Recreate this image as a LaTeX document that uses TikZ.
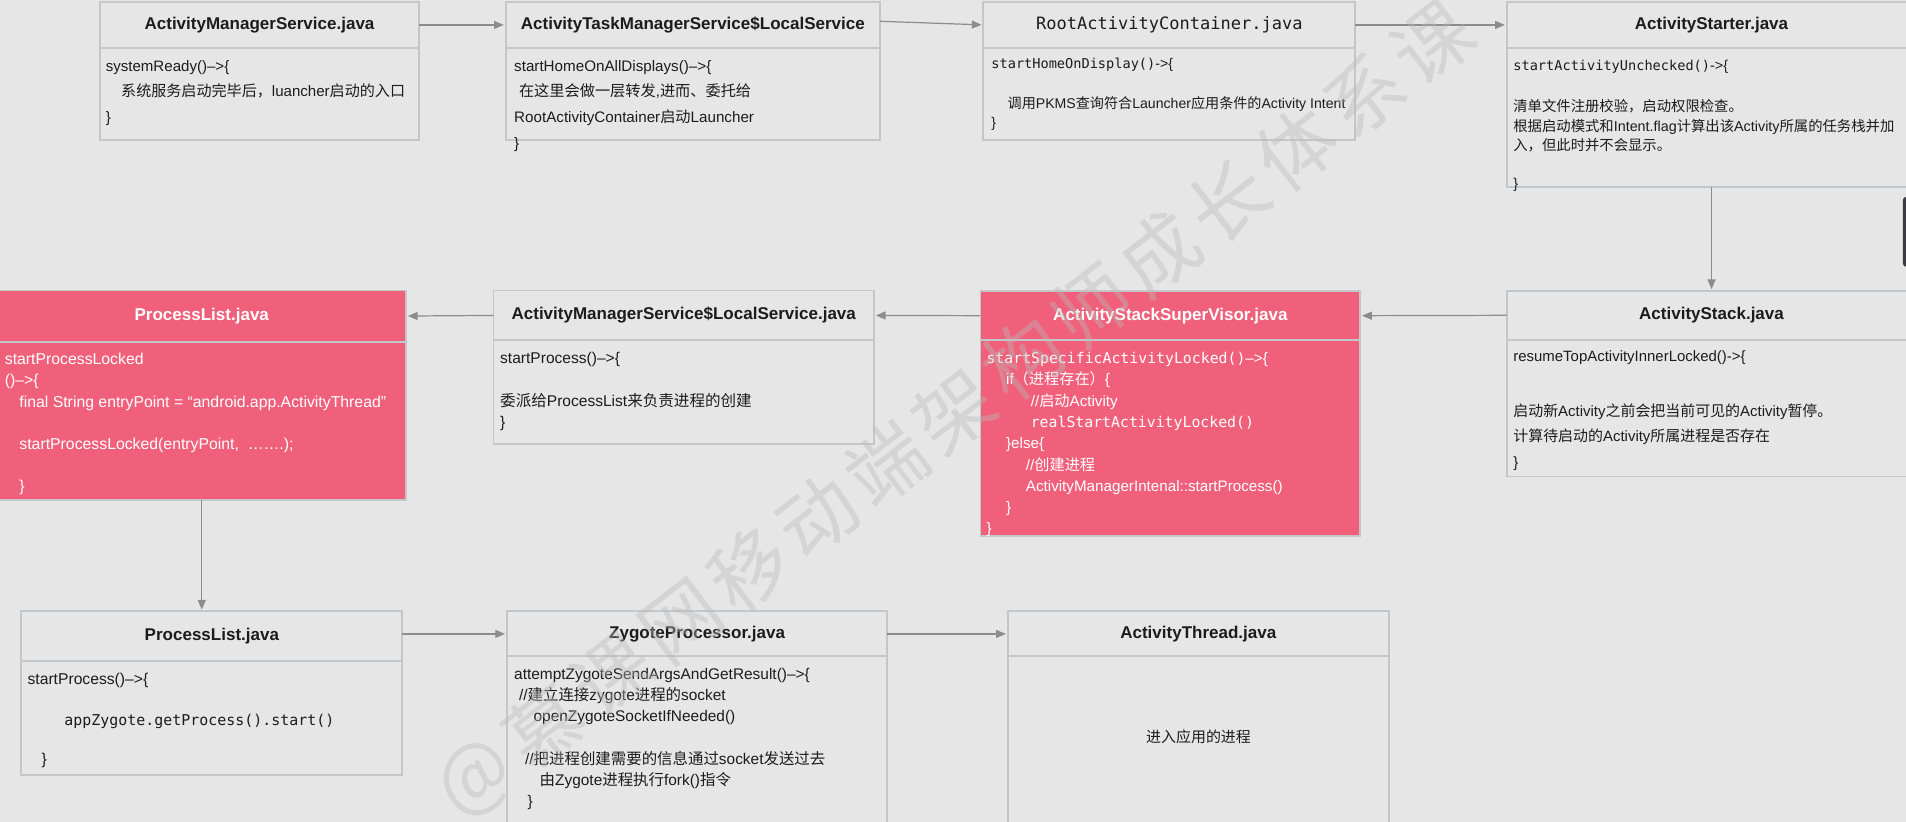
\documentclass[tikz,border=0pt]{standalone}
\usepackage{fontspec}
\setmainfont{Liberation Sans}
\newfontfamily\zhfont{Noto Sans CJK SC}
\newfontfamily\monof{DejaVu Sans Mono}
\usetikzlibrary{arrows.meta}
\definecolor{bgc}{RGB}{230,230,230}
\definecolor{bordc}{RGB}{196,199,202}
\definecolor{pinkc}{RGB}{241,96,122}
\definecolor{arrc}{RGB}{140,140,140}
\definecolor{txtc}{RGB}{28,28,28}
\definecolor{wmc}{RGB}{185,185,185}
\definecolor{darkc}{RGB}{58,58,64}
\newcommand\zh[1]{{\zhfont #1}}
\newcommand\fs[1]{\fontsize{#1}{#1}\selectfont}
\newcommand\mo[2]{{\monof\fs{#1}#2}}
\begin{document}
\begin{tikzpicture}[x=1pt,y=-1pt,
  hdr/.style={draw=bordc, line width=1.6pt, fill=bgc, inner sep=0pt, outer sep=0pt, anchor=north west, font=\fs{14}\bfseries, text=txtc},
  bod/.style={draw=bordc, line width=1.6pt, fill=bgc, inner sep=0pt, outer sep=0pt, anchor=north west},
  phdr/.style={hdr, fill=pinkc, text=white},
  pbod/.style={bod, fill=pinkc},
  txt/.style={anchor=base west, inner sep=0pt, outer sep=0pt, text=txtc},
  wtxt/.style={txt, text=white},
  amst/.style={txt, font=\fs{12.4}, yshift=-4.4pt},
  atmst/.style={txt, font=\fs{12.5}, yshift=-4.4pt},
  ract/.style={txt, font=\fs{11.6}, yshift=-4.1pt},
  start/.style={txt, font=\fs{11.8}, yshift=-4.2pt},
  stkt/.style={txt, font=\fs{12.3}, yshift=-4.4pt},
  assvt/.style={wtxt, font=\fs{12.5}, yshift=-4.4pt},
  amslst/.style={txt, font=\fs{12.8}, yshift=-4.5pt},
  plat/.style={wtxt, font=\fs{13}, yshift=-4.6pt},
  plbt/.style={txt, font=\fs{12.9}, yshift=-4.5pt},
  zpt/.style={txt, font=\fs{12.7}, yshift=-4.5pt},
  att/.style={txt, anchor=base, font=\fs{12.3}, yshift=-4.4pt},
  arr/.style={draw=arrc, line width=1pt, shorten >=1.5pt, -{Triangle[length=8pt,width=6.5pt]}},
  wm/.style={font=\zhfont\fs{64}, text=wmc, text opacity=0.4, rotate=37.6, inner sep=0pt}
]
\path[use as bounding box] (0,0) rectangle (1568,676.2);
\clip (0,0) rectangle (1568,676.2);
\fill[bgc] (0,0) rectangle (1568,676.2);

% ---------- boxes ----------
\node[hdr, minimum width=263pt, minimum height=38pt] (amsH) at (82,1.5) {ActivityManagerService.java};
\node[bod, minimum width=263pt, minimum height=75.5pt] (amsB) at (82,39.5) {};

\node[hdr, minimum width=308pt, minimum height=38pt] (atmsH) at (416,1.5) {ActivityTaskManagerService\$LocalService};
\node[bod, minimum width=308pt, minimum height=75.5pt] (atmsB) at (416,39.5) {};

\node[hdr, minimum width=306pt, minimum height=38pt, font=\monof\fs{14}] (racH) at (809,1.5) {RootActivityContainer.java};
\node[bod, minimum width=306pt, minimum height=75.5pt] (racB) at (809,39.5) {};

\node[hdr, minimum width=337pt, minimum height=38pt] (starH) at (1239.5,1.5) {ActivityStarter.java};
\node[bod, minimum width=337pt, minimum height=114pt] (starB) at (1239.5,39.5) {};

\node[hdr, minimum width=337pt, minimum height=40pt] (stkH) at (1239.5,239.4) {ActivityStack.java};
\node[bod, minimum width=337pt, minimum height=112.6pt] (stkB) at (1239.5,279.4) {};

\node[phdr, minimum width=312.4pt, minimum height=40.6pt] (assvH) at (806.6,239.4) {ActivityStackSuperVisor.java};
\node[pbod, minimum width=312.4pt, minimum height=161pt] (assvB) at (806.6,280) {};

\node[hdr, minimum width=313pt, minimum height=41pt] (amslsH) at (406,239) {ActivityManagerService\$LocalService.java};
\node[bod, minimum width=313pt, minimum height=85.5pt] (amslsB) at (406,280) {};

\node[phdr, minimum width=336pt, minimum height=42pt] (plaH) at (-2,239) {ProcessList.java};
\node[pbod, minimum width=336pt, minimum height=130.3pt] (plaB) at (-2,281) {};

\node[hdr, minimum width=313.4pt, minimum height=41pt] (plbH) at (17.6,503) {ProcessList.java};
\node[bod, minimum width=313.4pt, minimum height=93.6pt] (plbB) at (17.6,544) {};

\node[hdr, minimum width=313pt, minimum height=37pt] (zpH) at (417,503) {ZygoteProcessor.java};
\node[bod, minimum width=313pt, minimum height=160pt] (zpB) at (417,540) {};

\node[hdr, minimum width=313.6pt, minimum height=37pt] (atH) at (829,503) {ActivityThread.java};
\node[bod, minimum width=313.6pt, minimum height=160pt] (atB) at (829,540) {};

% ---------- connectors ----------
\draw[arr] (amsH.east) -- (atmsH.west);
\draw[arr] ([yshift=3pt]atmsH.east) -- (racH.west);
\draw[arr] (racH.east) -- (starH.west);
\draw[arr] (starB.south) -- (stkH.north);
\draw[arr] (stkH.west) -- (assvH.east);
\draw[arr] (assvH.west) -- (amslsH.east);
\draw[arr] (amslsH.west) -- (plaH.east);
\draw[arr] (plaB.south) -- (plaB.south |- plbH.north);
\draw[arr] (plbH.east |- zpH.west) -- (zpH.west);
\draw[arr] (zpH.east) -- (atH.west);

% ---------- texts ----------
\node[amst] (ams1) at (87,54.8) {systemReady()–>\{};
\node[amst] (ams2) at (99.7,75.4) {\zh{系统服务启动完毕后，}luancher\zh{启动的入口}};
\node[amst] (ams3) at (87,96) {\}};

\node[atmst] (atms1) at (423,54.8) {startHomeOnAllDisplays()–>\{};
\node[atmst] (atms2) at (427,75.4) {\zh{在这里会做一层转发},\zh{进而、委托给}};
\node[atmst] (atms3) at (423,96) {RootActivityContainer\zh{启动}Launcher};
\node[atmst] (atms4) at (423,117.5) {\}};

\node[ract] (rac1) at (815.6,52) {\mo{11.2}{startHomeOnDisplay()}->\{};
\node[ract] (rac2) at (829,85.5) {\zh{调用}PKMS\zh{查询符合}Launcher\zh{应用条件的}Activity Intent};
\node[ract] (rac3) at (815.6,101) {\}};

\node[start] (star1) at (1245,53.5) {\mo{11.2}{startActivityUnchecked()}->\{};
\node[start] (star2) at (1245,87.8) {\zh{清单文件注册校验，启动权限检查。}};
\node[start] (star3) at (1245,103.7) {\zh{根据启动模式和}Intent.flag\zh{计算出该}Activity\zh{所属的任务栈并加}};
\node[start] (star4) at (1245,119.8) {\zh{入，但此时并不会显示。}};
\node[start] (star5) at (1245,150.8) {\}};

\node[stkt] (stk1) at (1245,292.9) {resumeTopActivityInnerLocked()->\{};
\node[stkt] (stk2) at (1245,338) {\zh{启动新}Activity\zh{之前会把当前可见的}Activity\zh{暂停。}};
\node[stkt] (stk3) at (1245,359) {\zh{计算待启动的}Activity\zh{所属进程是否存在}};
\node[stkt] (stk4) at (1245,379.8) {\}};

\node[assvt] (assv1) at (811.6,294.8) {\mo{12.2}{startSpecificActivityLocked()}–>\{};
\node[assvt] (assv2) at (827.7,312) {if\zh{（进程存在）}\{};
\node[assvt] (assv3) at (848,330) {//\zh{启动}Activity};
\node[assvt] (assv4) at (848,347) {\mo{12.2}{realStartActivityLocked()}};
\node[assvt] (assv5) at (827.7,364.7) {\}else\{};
\node[assvt] (assv6) at (844,382.5) {//\zh{创建进程}};
\node[assvt] (assv7) at (844,400) {ActivityManagerIntenal::startProcess()};
\node[assvt] (assv8) at (827.7,417.6) {\}};
\node[assvt] (assv9) at (811.6,434.6) {\}};

\node[amslst] (amsls1) at (411.5,294.8) {startProcess()–>\{};
\node[amslst] (amsls2) at (411.5,330) {\zh{委派给}ProcessList\zh{来负责进程的创建}};
\node[amslst] (amsls3) at (411.5,347) {\}};

\node[plat] (pla1) at (4,295.6) {startProcessLocked};
\node[plat] (pla2) at (4,312.6) {()–>\{};
\node[plat] (pla3) at (16,331) {final String entryPoint = “android.app.ActivityThread”};
\node[plat] (pla4) at (16,365.5) {startProcessLocked(entryPoint,\ \ …….);};
\node[plat] (pla5) at (16,400) {\}};

\node[plbt] (plb1) at (22.7,558.8) {startProcess()–>\{};
\node[plbt] (plb2) at (52.9,592.3) {\mo{12.3}{appZygote.getProcess().start()}};
\node[plbt] (plb3) at (34.3,624.7) {\}};

\node[zpt] (zp1) at (423,554.5) {attemptZygoteSendArgsAndGetResult()–>\{};
\node[zpt] (zp2) at (427,571.7) {//\zh{建立连接}zygote\zh{进程的}socket};
\node[zpt] (zp3) at (439,588.7) {openZygoteSocketIfNeeded()};
\node[zpt] (zp4) at (432,624.7) {//\zh{把进程创建需要的信息通过}socket\zh{发送过去}};
\node[zpt] (zp5) at (444,641.7) {\zh{由}Zygote\zh{进程执行}fork()\zh{指令}};
\node[zpt] (zp6) at (434,658.7) {\}};

\node[att] (at1) at (986,606.6) {\zh{进入应用的进程}};

% ---------- watermark ----------
\foreach \ch [count=\i from 0] in {@,慕,课,网,移,动,端,架,构,师,成,长,体,系,课}
  \node[wm] (wm\i) at ({392+56.2*\i},{641.6-43.3*\i}) {\ch};

% ---------- dark edge element ----------
\fill[darkc, rounded corners=2.5pt] (1565.5,162) rectangle (1582,219.4);
\end{tikzpicture}
\end{document}
